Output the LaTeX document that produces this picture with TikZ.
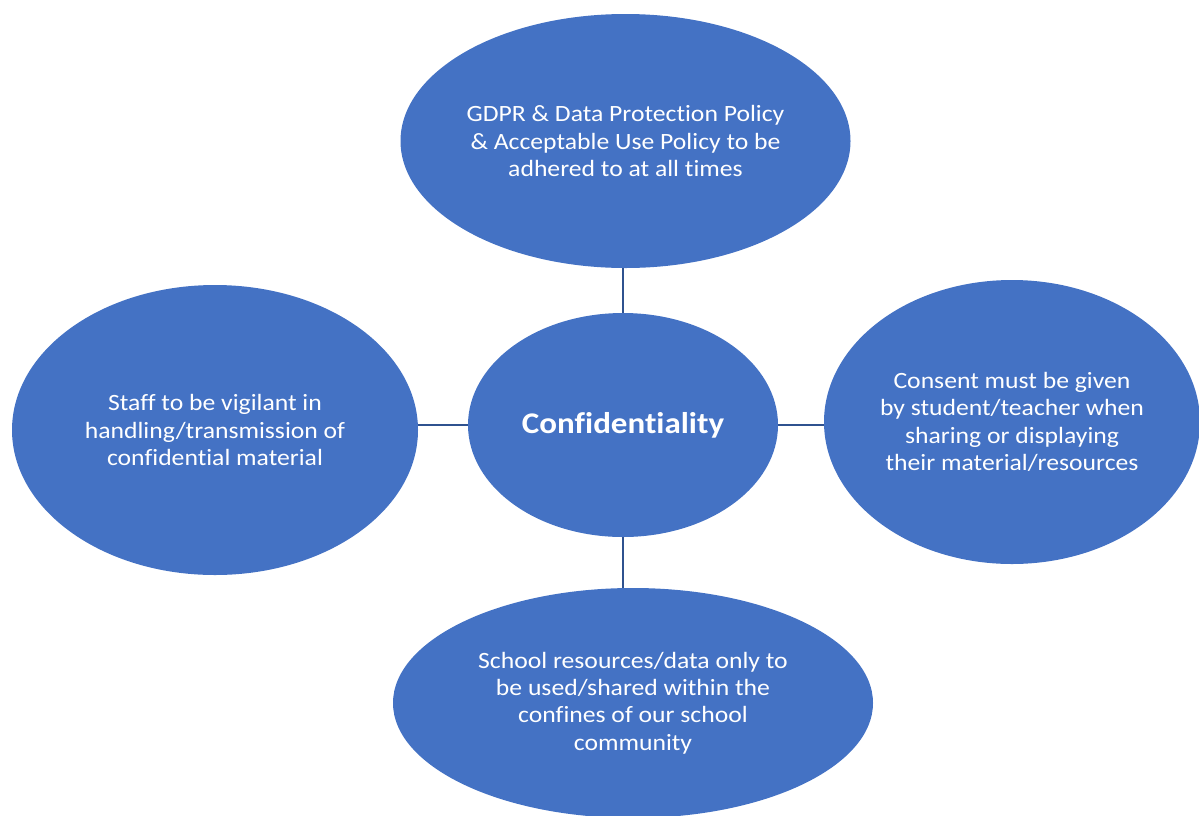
\documentclass[tikz,border=0pt]{standalone}
\usepackage{fontspec}
\setmainfont{Carlito}[FakeStretch=1.1, Ligatures=NoCommon]
\usetikzlibrary{shapes.geometric}
\definecolor{bubblefill}{HTML}{4472C4}
\definecolor{linkline}{HTML}{2F528F}
\tikzset{
  bubble/.style={ellipse, fill=bubblefill, inner sep=0pt, align=center,
    text=white, font=\fontsize{17.5}{20.5}\selectfont},
  radii/.style 2 args={minimum width={#1*1.5pt}, minimum height={#2*1.5pt}},
  link/.style={draw=linkline, line width=1.5pt}
}

\begin{document}
\begin{tikzpicture}[x=0.75pt,y=-0.75pt]
  \useasboundingbox (0,0) rectangle (1199,815);
  \clip (0,0) rectangle (1199,815);
  %
  \node[bubble, radii={155}{112}, font=\fontsize{22.5}{26}\selectfont\bfseries]
    (confid) at (623,425) {Confidentiality};
  \node[bubble, radii={225}{127}] (gdpr) at (625.5,141)
    {GDPR \& Data Protection Policy\\\& Acceptable Use Policy to be\\adhered to at all times};
  \node[bubble, radii={203}{145}] (staff) at (215,430)
    {Staff to be vigilant in\\handling/transmission of\\confidential material};
  \node[bubble, radii={188}{142}] (consent) at (1012,422)
    {Consent must be given\\by student/teacher when\\sharing or displaying\\their material/resources};
  \node[bubble, radii={240}{115}] (school) at (633,703)
    {School resources/data only to\\be used/shared within the\\confines of our school\\community};
  %
  \draw[link] (confid.north) -- (confid.north |- gdpr.south);   % up
  \draw[link] (confid.west) -- (staff.east |- confid.west);     % left
  \draw[link] (confid.east) -- (consent.west |- confid.east);   % right
  \draw[link] (confid.south) -- (confid.south |- school.north); % down
\end{tikzpicture}
\end{document}
